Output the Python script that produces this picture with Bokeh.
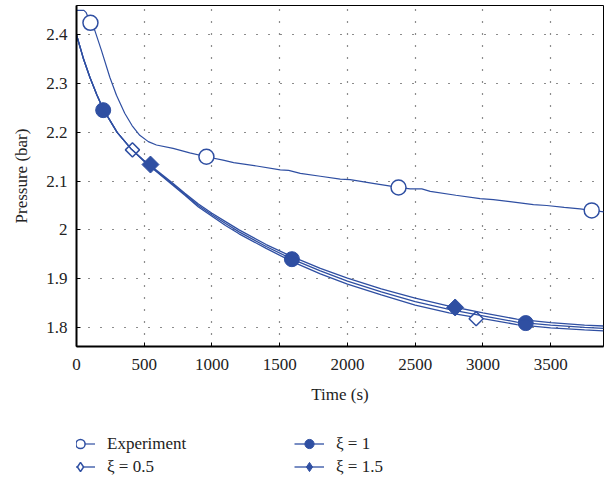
from bokeh.plotting import figure
from bokeh.layouts import column
from bokeh.models import Range1d, Legend, LegendItem, CustomJSTickFormatter, FixedTicker
from bokeh.embed import file_html
from bokeh.resources import INLINE
import math

# ---- data ----
exp_t = [0, 55, 70, 103, 135, 184, 246, 295, 356, 410, 467, 530, 590, 713, 836, 959, 1082, 1160,
         1330, 1504, 1566, 1652, 1800, 1947, 2020, 2200, 2377, 2463, 2549, 2611, 2800, 2979, 3077,
         3200, 3373, 3471, 3600, 3717, 3803, 3894]
exp_p = [2.450, 2.450, 2.446, 2.425, 2.409, 2.368, 2.313, 2.276, 2.239, 2.214, 2.194, 2.181, 2.174,
         2.167, 2.158, 2.150, 2.143, 2.138, 2.131, 2.123, 2.122, 2.116, 2.110, 2.104, 2.103, 2.095,
         2.087, 2.084, 2.084, 2.079, 2.071, 2.064, 2.062, 2.058, 2.052, 2.050, 2.046, 2.043, 2.040, 2.037]

sim_t = [0, 50, 100, 150, 200, 300, 400, 500, 600, 700, 800, 900, 1000, 1100, 1200, 1400, 1600,
         1800, 2000, 2250, 2500, 2750, 3000, 3250, 3500, 3750, 3890]
xi05_p = [2.400, 2.352, 2.312, 2.277, 2.246, 2.200, 2.167, 2.140, 2.117, 2.094, 2.071, 2.047, 2.028,
          2.009, 1.992, 1.962, 1.934, 1.910, 1.889, 1.867, 1.846, 1.830, 1.818, 1.806, 1.799, 1.795, 1.793]
xi1_p = [2.400, 2.352, 2.312, 2.277, 2.246, 2.200, 2.167, 2.141, 2.118, 2.096, 2.073, 2.050, 2.031,
         2.013, 1.996, 1.966, 1.939, 1.916, 1.895, 1.873, 1.853, 1.837, 1.824, 1.811, 1.805, 1.800, 1.798]
xi15_p = [2.400, 2.352, 2.312, 2.277, 2.246, 2.200, 2.167, 2.142, 2.120, 2.098, 2.075, 2.053, 2.034,
          2.017, 2.000, 1.970, 1.944, 1.921, 1.901, 1.879, 1.860, 1.844, 1.830, 1.817, 1.810, 1.805, 1.803]

exp_mt = [103, 959, 2377, 3803]
exp_mp = [2.4245, 2.150, 2.087, 2.040]
xi05_mt = [413, 2950]
xi05_mp = [2.164, 1.818]
xi1_mt = [197, 1590, 3316]
xi1_mp = [2.2455, 1.940, 1.809]
xi15_mt = [546, 2795]
xi15_mp = [2.134, 1.841]

labels = ["Experiment", "ξ = 0.5", "ξ = 1", "ξ = 1.5"]
x_ticks = [0, 500, 1000, 1500, 2000, 2500, 3000, 3500]
y_ticks = [1.8, 1.9, 2.0, 2.1, 2.2, 2.3, 2.4]

BLUE = "#2F4FA2"
FONT = "Liberation Serif"
TXT = "#222222"
rot = math.pi / 4

p = figure(frame_width=527, frame_height=341, output_backend="svg", toolbar_location=None,
           x_range=Range1d(0, 3890), y_range=Range1d(1.761, 2.46),
           min_border_left=76, min_border_right=1, min_border_top=5, min_border_bottom=64)

p.outline_line_color = "black"
p.outline_line_width = 1
p.background_fill_color = "white"
p.border_fill_color = "white"

for ax in (p.xaxis[0], p.yaxis[0]):
    ax.axis_line_width = 2
    ax.axis_line_color = "black"
    ax.major_tick_in = 4
    ax.major_tick_out = 0
    ax.minor_tick_line_color = None
    ax.major_label_text_font = FONT
    ax.major_label_text_font_size = "17px"
    ax.major_label_text_color = TXT
    ax.axis_label_text_font = FONT
    ax.axis_label_text_font_size = "17px"
    ax.axis_label_text_font_style = "normal"
    ax.axis_label_text_color = TXT

p.xaxis.ticker = FixedTicker(ticks=x_ticks)
p.yaxis.ticker = FixedTicker(ticks=y_ticks)
p.yaxis.formatter = CustomJSTickFormatter(code="return String(Number(tick.toFixed(1)));")
p.xaxis.axis_label = "Time (s)"
p.yaxis.axis_label = "Pressure (bar)"
p.xaxis.major_label_standoff = 12
p.xaxis.axis_label_standoff = 12
p.yaxis.major_label_standoff = 9
p.yaxis.axis_label_standoff = 12

for g in (p.xgrid[0], p.ygrid[0]):
    g.grid_line_color = "black"
    g.grid_line_dash = "1 11"
    g.grid_line_width = 1.2
    g.grid_line_alpha = 0.9

# series definitions (style only)
styles = [
    dict(marker="circle", size=15, fill_color="white", line_width=1.5, angle=0.0, lmarker="circle"),
    dict(marker="square", size=10, fill_color="white", line_width=1.5, angle=rot, lmarker="diamond"),
    dict(marker="circle", size=15, fill_color=BLUE, line_width=1.0, angle=0.0, lmarker="circle"),
    dict(marker="square", size=12, fill_color=BLUE, line_width=1.0, angle=rot, lmarker="diamond"),
]
series = [(exp_t, exp_p, exp_mt, exp_mp, 1.2),
          (sim_t, xi05_p, xi05_mt, xi05_mp, 1.3),
          (sim_t, xi1_p, xi1_mt, xi1_mp, 1.3),
          (sim_t, xi15_p, xi15_mt, xi15_mp, 1.3)]

for (t, v, mt, mv, lw), st in zip(series, styles):
    p.line(t, v, line_color=BLUE, line_width=lw)
    p.scatter(mt, mv, marker=st["marker"], size=st["size"], angle=st["angle"],
              fill_color=st["fill_color"], line_color=BLUE, line_width=st["line_width"])

# legend figure underneath (its ranges keep the series out of view; only the legend shows)
lg = figure(width=604, height=72, output_backend="svg", toolbar_location=None,
            x_range=Range1d(-2, -1), y_range=Range1d(-2, -1),
            min_border_left=0, min_border_right=0, min_border_top=0, min_border_bottom=0,
            x_axis_type=None, y_axis_type=None)
lg.outline_line_color = None
lg.xgrid.visible = False
lg.ygrid.visible = False

items = []
for lab, (t, v, mt, mv, lw), st in zip(labels, series, styles):
    rl = lg.line(t, v, line_color=BLUE, line_width=lw)
    rs = lg.scatter(mt, mv, marker=st["lmarker"], size=st["size"],
                    fill_color=st["fill_color"], line_color=BLUE, line_width=st["line_width"])
    items.append(LegendItem(label=lab, renderers=[rl, rs]))

legend = Legend(items=items, orientation="vertical", ncols=2)
legend.location = (-11, 4)
legend.border_line_color = None
legend.background_fill_alpha = 0
legend.label_text_font = FONT
legend.label_text_font_size = "17px"
legend.label_text_color = TXT
legend.glyph_width = 30
legend.glyph_height = 23
legend.label_width = 187
legend.label_height = 23
legend.label_standoff = 12
legend.spacing = 0
legend.padding = 0
legend.margin = 0
legend.label_text_baseline = "middle"
lg.add_layout(legend, "center")

layout = column(p, lg, spacing=0)
open("out.html", "w").write(file_html(layout, INLINE))
